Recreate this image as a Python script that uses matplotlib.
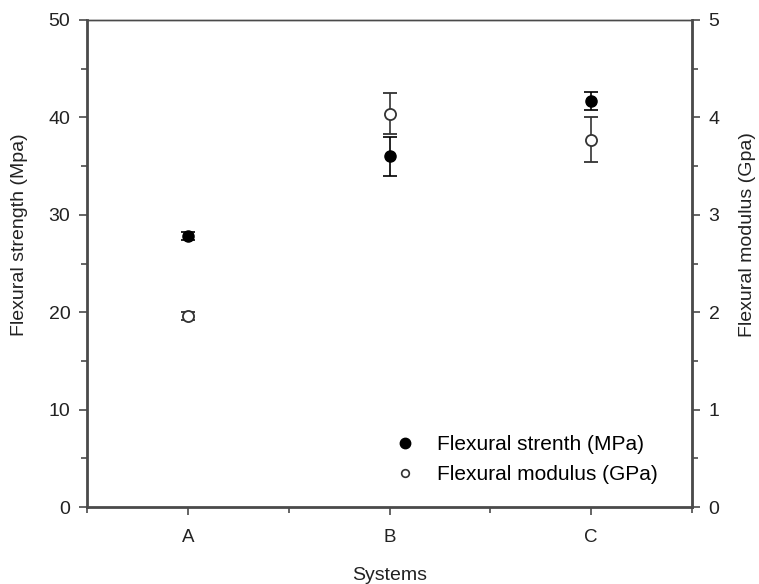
import matplotlib
matplotlib.use("Agg")
import matplotlib.pyplot as plt
from matplotlib.ticker import MultipleLocator
from matplotlib.lines import Line2D

plt.rcParams['font.family'] = ['Liberation Sans', 'DejaVu Sans']

systems = ["A", "B", "C"]
strength = [27.8, 36.0, 41.7]        # MPa
strength_err = [0.4, 2.0, 0.9]
modulus = [1.96, 4.04, 3.77]         # GPa
modulus_err = [0.04, 0.21, 0.23]

axis_col = "#4a4a4a"
text_col = "#222222"
fig = plt.figure(figsize=(7.59, 5.84), dpi=100)
ax = fig.add_axes([87/759, 1 - 507/584, (692-87)/759, (507-20)/584])
ax2 = ax.twinx()

x = list(range(1, len(systems) + 1))

ax.errorbar(x, strength, yerr=strength_err, fmt='o', color='black',
            ms=8, capsize=5, elinewidth=1.2, capthick=1.2, zorder=3)
ax2.errorbar(x, modulus, yerr=modulus_err, fmt='o', color='#333333',
             mfc='white', mec='#333333', mew=1.3, ms=8, capsize=5,
             elinewidth=1.2, capthick=1.2, zorder=3)

ax.set_xlim(0.5, 3.5)
ax.set_ylim(0, 50)
ax2.set_ylim(0, 5)
ax.set_xticks(x)
ax.set_xticklabels(systems)
ax.xaxis.set_minor_locator(MultipleLocator(0.5))
ax.yaxis.set_major_locator(MultipleLocator(10))
ax.yaxis.set_minor_locator(MultipleLocator(5))
ax2.yaxis.set_major_locator(MultipleLocator(1))
ax2.yaxis.set_minor_locator(MultipleLocator(0.5))

for a in (ax, ax2):
    for s in a.spines.values():
        s.set_color(axis_col)
        s.set_linewidth(1.0)
    a.tick_params(which='major', direction='out', length=6, width=1.2,
                  color=axis_col, labelsize=14, labelcolor=text_col, pad=6)
    a.tick_params(which='minor', direction='out', length=4, width=1.2,
                  color=axis_col)
ax.spines['left'].set_linewidth(2)
ax.spines['bottom'].set_linewidth(2)
ax2.spines['right'].set_linewidth(2)
ax2.spines['left'].set_visible(False)
ax2.spines['bottom'].set_visible(False)
ax.tick_params(axis='x', which='major', labelsize=13.5, pad=10)

ax.set_xlabel("Systems", fontsize=14, color=text_col)
ax.xaxis.set_label_coords(0.5, -0.124)
ax.set_ylabel("Flexural strength (Mpa)", fontsize=14, color=text_col)
ax.yaxis.set_label_coords(-0.097, 0.56)
ax2.set_ylabel("Flexural modulus (Gpa)", fontsize=14, color=text_col,
               rotation=90)
ax2.yaxis.set_label_coords(1.078, 0.56)

handles = [
    Line2D([], [], ls='none', marker='o', color='black', ms=7.5),
    Line2D([], [], ls='none', marker='o', mfc='white', mec='#333333', mew=1.2, ms=5.5),
]
ax.legend(handles, ["Flexural strenth (MPa)", "Flexural modulus (GPa)"],
          loc='upper left', bbox_to_anchor=(0.508, 0.148), frameon=False,
          borderpad=0, borderaxespad=0, fontsize=15, handletextpad=1.05,
          labelspacing=0.55, handlelength=1.0)

fig.savefig("out.png", dpi=100)
